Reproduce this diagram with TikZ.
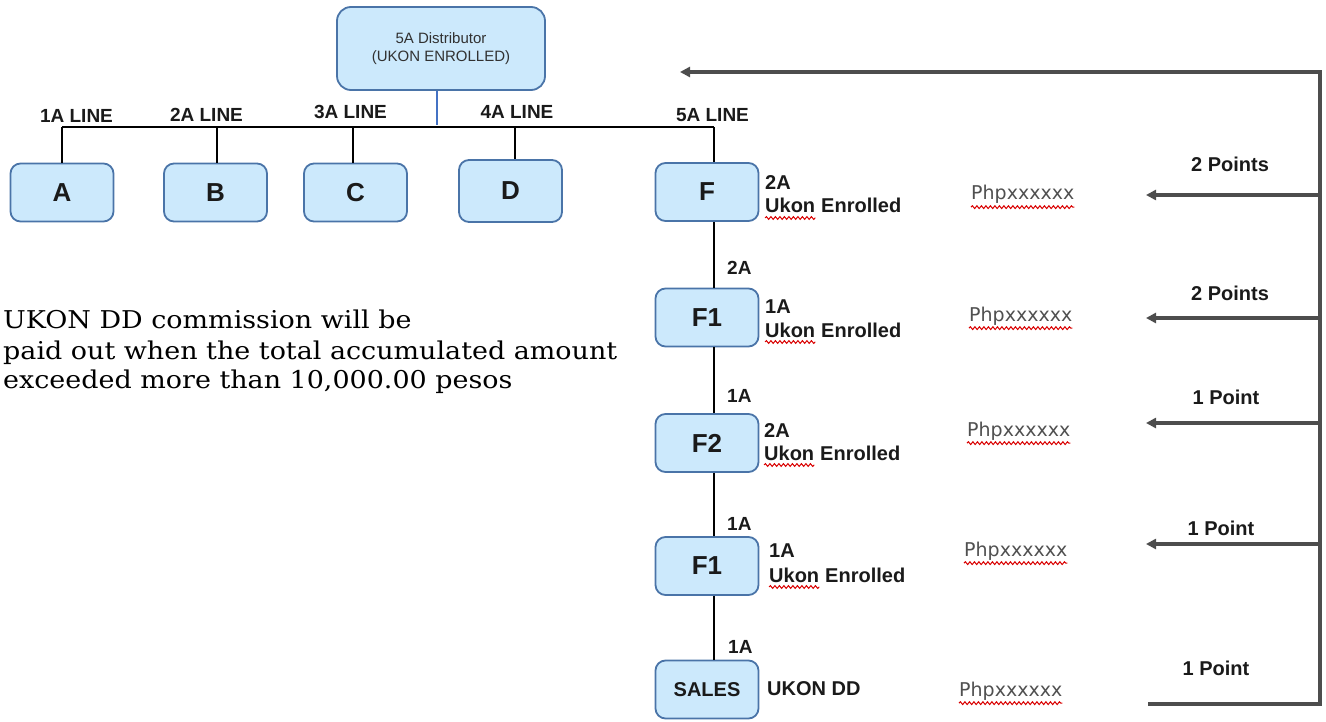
\documentclass[tikz,border=0pt]{standalone}
\usepackage{fontspec}
\setmainfont{Liberation Sans}
\newfontfamily\parafont[FakeStretch=1.1]{DejaVu Serif}
\newfontfamily\phpfont{DejaVu Sans}
\usetikzlibrary{arrows.meta,decorations.pathmorphing}
\definecolor{boxfill}{HTML}{CCE9FC}
\definecolor{boxline}{HTML}{4A74A8}
\definecolor{arrgray}{HTML}{4D4D4D}
\definecolor{blueline}{HTML}{4472C4}
\definecolor{phpgray}{HTML}{505050}
\definecolor{txtdark}{HTML}{1A1A1A}
\begin{document}
\begin{tikzpicture}[x=1pt,y=-1pt,
  box/.style={draw=boxline, line width=1.8pt, fill=boxfill, rounded corners=10pt,
    minimum width=103pt, minimum height=58pt, inner sep=0pt, text=txtdark,
    font=\fontsize{26}{30}\selectfont\bfseries},
  topbox/.style={box, minimum width=208pt, minimum height=83pt, rounded corners=14pt,
    align=center, text=txtdark!90, font=\fontsize{15}{18}\selectfont},
  conn/.style={draw=black, line width=1.3pt},
  blueconn/.style={draw=blueline, line width=1.3pt},
  linelab/.style={inner sep=0pt, anchor=base, text=txtdark, font=\fontsize{19}{22}\selectfont\bfseries},
  lab/.style={inner sep=0pt, anchor=base west, text=txtdark, font=\fontsize{20}{23}\selectfont\bfseries},
  pts/.style={inner sep=0pt, anchor=base, text=txtdark, font=\fontsize{20}{23}\selectfont\bfseries},
  php/.style={inner sep=0pt, anchor=base west, text=phpgray, font=\phpfont\fontsize{19}{22}\selectfont},
  para/.style={inner sep=0pt, anchor=base west, text=black, font=\parafont\fontsize{24.5}{30}\selectfont},
  squig/.style={draw=red!85!black, line width=1pt, decorate,
    decoration={snake, amplitude=1.4pt, segment length=4.5pt}},
  trunk/.style={draw=arrgray, line width=3.2pt},
  arr/.style={trunk, -{Triangle[length=10pt,width=10pt]}}
]
\path[use as bounding box] (0,0) rectangle (1326,722);

% top distributor box
\node[topbox] (top) at (441,48.5) {5A Distributor\\(UKON ENROLLED)};

% first row boxes
\node[box] (A) at (62,192.5) {A};
\node[box] (B) at (215.5,192.5) {B};
\node[box] (C) at (355.5,192.5) {C};
\node[box, minimum height=62pt] (D) at (510.5,191) {D};
\node[box] (F) at (707,192) {F};

% bus
\coordinate (bus1) at (62,127);
\coordinate (bus2) at (217,127);
\coordinate (bus3) at (353,127);
\coordinate (bus4) at (515,127);
\coordinate (bus5) at (714,127);
\coordinate (busT) at (437,125);
\draw[blueconn] ([xshift=-4pt]top.south) -- (busT);
\draw[conn] (bus1) -- (bus5);
\draw[conn] (bus1) -- (bus1 |- A.north);
\draw[conn] (bus2) -- (bus2 |- B.north);
\draw[conn] (bus3) -- (bus3 |- C.north);
\draw[conn] (bus4) -- (bus4 |- D.north);
\draw[conn] (bus5) -- (bus5 |- F.north);

\node[linelab] (l1) at (76.5,123) {1A LINE};
\node[linelab] (l2) at (206.5,122) {2A LINE};
\node[linelab] (l3) at (350.5,119) {3A LINE};
\node[linelab] (l4) at (517,119) {4A LINE};
\node[linelab] (l5) at (712.5,122) {5A LINE};

% vertical chain
\node[box] (F1) at (707,317.5) {F1};
\node[box] (F2) at (707,443) {F2};
\node[box] (F1b) at (707,566) {F1};
\node[box, font=\fontsize{20}{23}\selectfont\bfseries] (S) at (707,689.5) {SALES};

\draw[conn] (F.south -| bus5) -- (F1.north -| bus5);
\draw[conn] (F1.south -| bus5) -- (F2.north -| bus5);
\draw[conn] (F2.south -| bus5) -- (F1b.north -| bus5);
\draw[conn] (F1b.south -| bus5) -- (S.north -| bus5);

\node[lab, font=\fontsize{19}{22}\selectfont\bfseries] (m1) at (727,275) {2A};
\node[lab, font=\fontsize{19}{22}\selectfont\bfseries] (m2) at (727,402) {1A};
\node[lab, font=\fontsize{19}{22}\selectfont\bfseries] (m3) at (727,530) {1A};
\node[lab, font=\fontsize{19}{22}\selectfont\bfseries] (m4) at (728,653) {1A};

% right-side labels
\node[lab] (a1) at (765,190) {2A};
\node[lab] (u1) at (765,213) {Ukon};
\node[lab] (e1) at ([xshift=5.6pt]u1.base east) {Enrolled};
\node[lab] (a2) at (765,313) {1A};
\node[lab] (u2) at (765,337) {Ukon};
\node[lab] (e2) at ([xshift=5.6pt]u2.base east) {Enrolled};
\node[lab] (a3) at (764,437) {2A};
\node[lab] (u3) at (764,460) {Ukon};
\node[lab] (e3) at ([xshift=5.6pt]u3.base east) {Enrolled};
\node[lab] (a4) at (769,557) {1A};
\node[lab] (u4) at (769,582) {Ukon};
\node[lab] (e4) at ([xshift=5.6pt]u4.base east) {Enrolled};
\node[lab] (dd) at (767,695) {UKON DD};

\foreach \u in {u1,u2,u3,u4}
  \draw[squig] ([yshift=-5pt]\u.base west) -- ([yshift=-5pt]\u.base east);

% Php labels
\node[php] (p1) at (971,200) {Phpxxxxxx};
\node[php] (p2) at (969,321) {Phpxxxxxx};
\node[php] (p3) at (967,436) {Phpxxxxxx};
\node[php] (p4) at (964,556) {Phpxxxxxx};
\node[php] (p5) at (959,696) {Phpxxxxxx};
\foreach \p in {p1,p2,p3,p4,p5}
  \draw[squig] ([yshift=-3pt]\p.south west) -- ([yshift=-3pt]\p.south east);

% points arrows
\coordinate (tr0) at (1320,72);
\coordinate (tr1) at (1320,195);
\coordinate (tr2) at (1320,318);
\coordinate (tr3) at (1320,423);
\coordinate (tr4) at (1320,544);
\coordinate (tr5) at (1320,704);
\coordinate (tp0) at (680,72);
\coordinate (tp1) at (1146,195);
\coordinate (tp2) at (1146,318);
\coordinate (tp3) at (1146,423);
\coordinate (tp4) at (1146,544);
\coordinate (tp5) at (1148,704);
\draw[trunk, {Triangle[length=10pt,width=10pt]}-] (tp0) -- (tr0) -- (tr5) -- (tp5);
\draw[arr] (tr1) -- (tp1);
\draw[arr] (tr2) -- (tp2);
\draw[arr] (tr3) -- (tp3);
\draw[arr] (tr4) -- (tp4);

\node[pts] (pt1) at (1230,172) {2 Points};
\node[pts] (pt2) at (1230,301) {2 Points};
\node[pts] (pt3) at (1226,404) {1 Point};
\node[pts] (pt4) at (1221,535) {1 Point};
\node[pts] (pt5) at (1216,675) {1 Point};

% paragraph
\node[para] (t1) at (3,328) {UKON DD commission will be};
\node[para] (t2) at (3,359) {paid out when the total accumulated amount};
\node[para] (t3) at (3,388) {exceeded more than 10,000.00 pesos};
\end{tikzpicture}
\end{document}
